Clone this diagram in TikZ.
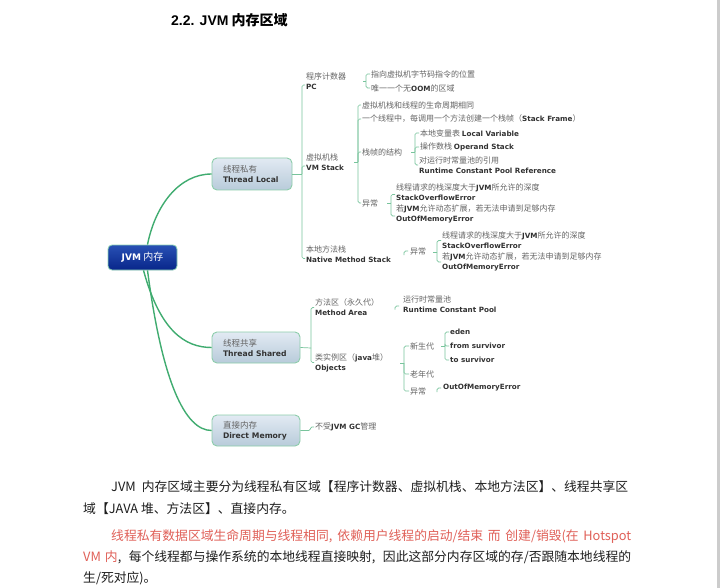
\documentclass[tikz,border=0pt]{standalone}
\usepackage{fontspec}
\setmainfont{Noto Sans CJK SC}
\newfontfamily\enfont{DejaVu Sans}[Scale=0.9]
\newfontfamily\titlefont{Liberation Sans}
\definecolor{jvmgreen}{RGB}{64,172,112}
\definecolor{jvmline}{RGB}{120,196,156}
\definecolor{jvmtext}{RGB}{100,100,100}
\definecolor{jvmdark}{RGB}{50,50,50}
\definecolor{jvmbody}{RGB}{30,30,30}
\definecolor{jvmred}{RGB}{224,96,88}
\newcommand\en[1]{{\enfont\bfseries\color{jvmdark}#1}}
\begin{document}
\begin{tikzpicture}[x=1pt, y=-1pt,
  root/.style={rounded corners=4pt, top color={rgb,255:red,40;green,80;blue,180}, bottom color={rgb,255:red,8;green,38;blue,138}, draw={rgb,255:red,140;green,210;blue,180}, line width=0.8pt, minimum width=69pt, minimum height=25pt, text=white, font=\fontsize{10}{12}\selectfont},
  topic/.style={rounded corners=5pt, top color={rgb,255:red,226;green,234;blue,243}, bottom color={rgb,255:red,184;green,203;blue,218}, draw={rgb,255:red,140;green,205;blue,170}, line width=0.9pt, inner xsep=11pt, align=left, text=jvmtext, font=\fontsize{8.5}{10}\selectfont},
  leaf/.style={anchor=west, inner sep=1pt, align=left, text=jvmtext, font=\fontsize{8}{10}\selectfont},
  body/.style={anchor=west, inner sep=0pt, text=jvmbody, font=\fontsize{12.8}{14}\selectfont},
  limb/.style={draw=jvmgreen, line width=1.4pt},
  bracket/.style={draw=jvmline, line width=0.7pt, rounded corners=1.5pt}]
\fill[white] (0,0) rectangle (720,588);
\fill[black!20] (717,0) rectangle (720,588);
\useasboundingbox (0,0) rectangle (720,588);

\node[anchor=west, inner sep=0pt, font=\fontsize{14}{14}\selectfont\bfseries] (title) at (171,20) {{\titlefont 2.2. JVM} 内存区域};

\node[root] (root) at (142.5,257.5) {{\enfont\bfseries JVM} 内存};
\node[topic, minimum width=80pt, minimum height=32pt, text width=58pt] (tl) at (252,174) {线程私有\\\en{Thread Local}};
\node[topic, minimum width=88pt, minimum height=31pt, text width=66pt] (ts) at (256,347.5) {线程共享\\\en{Thread Shared}};
\node[topic, minimum width=88pt, minimum height=31pt, text width=66pt] (dm) at (256,430.5) {直接内存\\\en{Direct Memory}};

\node[leaf] (pc) at (305,81) {程序计数器\\\en{PC}};
\node[leaf] (vms) at (305,162) {虚拟机栈\\\en{VM Stack}};
\node[leaf] (nms) at (305,254.5) {本地方法栈\\\en{Native Method Stack}};

\node[leaf] (pc1) at (370,74) {指向虚拟机字节码指令的位置};
\node[leaf] (pc2) at (370,88) {唯一一个无\en{OOM}的区域};

\node[leaf] (v1) at (361,105) {虚拟机栈和线程的生命周期相同};
\node[leaf] (v2) at (361,119) {一个线程中，每调用一个方法创建一个栈帧（\en{Stack Frame}）};
\node[leaf] (v3) at (361,152) {栈帧的结构};
\node[leaf] (v4) at (361,203) {异常};

\node[leaf] (f1) at (419,133) {本地变量表 \en{Local Variable}};
\node[leaf] (f2) at (419,147) {操作数栈 \en{Operand Stack}};
\node[leaf] (f3) at (418,165) {对运行时常量池的引用\\\en{Runtime Constant Pool Reference}};

\node[leaf] (e1) at (395,192.5) {线程请求的栈深度大于\en{JVM}所允许的深度\\\en{StackOverflowError}};
\node[leaf] (e2) at (395,214) {若\en{JVM}允许动态扩展，若无法申请到足够内存\\\en{OutOfMemoryError}};

\node[leaf] (n1) at (409,251) {异常};
\node[leaf] (ne1) at (441,240.5) {线程请求的栈深度大于\en{JVM}所允许的深度\\\en{StackOverflowError}};
\node[leaf] (ne2) at (441,262) {若\en{JVM}允许动态扩展，若无法申请到足够内存\\\en{OutOfMemoryError}};

\node[leaf] (ma) at (314,307.5) {方法区（永久代）\\\en{Method Area}};
\node[leaf] (obj) at (314,362.5) {类实例区（\en{java}堆）\\\en{Objects}};
\node[leaf] (rcp) at (402,304.5) {运行时常量池\\\en{Runtime Constant Pool}};

\node[leaf] (o1) at (409,346) {新生代};
\node[leaf] (o2) at (409,374) {老年代};
\node[leaf] (o3) at (409,391) {异常};
\node[leaf] (y1) at (449,332) {\en{eden}};
\node[leaf] (y2) at (449,346) {\en{from survivor}};
\node[leaf] (y3) at (449,360) {\en{to survivor}};
\node[leaf] (oom) at (442,388) {\en{OutOfMemoryError}};

\node[leaf] (gc) at (314,427) {不受\en{JVM GC}管理};

\draw[limb] ([xshift=5pt]root.north) .. controls +(8,-40) and +(-32,0) .. (tl.west);
\draw[limb] ([xshift=1pt]root.south) .. controls +(16.5,60) and +(-27,0) .. (ts.west);
\draw[limb] ([xshift=5pt]root.south) .. controls +(14.5,110) and +(-27,0) .. (dm.west);

\coordinate (tlb) at (302,174);
\draw[bracket] (tl.east) -- (tlb);
\foreach \n in {pc,vms,nms} \draw[bracket] (tlb) |- ([yshift=-4pt]\n.west);

\coordinate (pcb) at (366,81);
\draw[bracket] (pcb) -- ++(-3,0);
\foreach \n in {pc1,pc2} \draw[bracket] (pcb) |- (\n.west);

\coordinate (vmb) at (358,162);
\draw[bracket] (vmb) -- ++(-4,0);
\foreach \n in {v1,v2,v3,v4} \draw[bracket] (vmb) |- (\n.west);

\coordinate (frb) at (415,152);
\draw[bracket] (frb) -- ++(-4,0);
\foreach \n in {f1,f2,f3} \draw[bracket] (frb) |- (\n.west);

\coordinate (veb) at (391,203);
\draw[bracket] (veb) -- ++(-4,0);
\foreach \n in {e1,e2} \draw[bracket] (veb) |- ([yshift=-2pt]\n.west);

\draw[bracket] ([xshift=-5pt,yshift=-4pt]n1.west) |- ([xshift=-1pt]n1.west);
\coordinate (nb) at (437,252);
\draw[bracket] (nb) -- ++(-4,0);
\foreach \n in {ne1,ne2} \draw[bracket] (nb) |- (\n.west);

\coordinate (tsb) at (311,348);
\draw[bracket] (ts.east) -- (tsb);
\foreach \n in {ma,obj} \draw[bracket] (tsb) |- (\n.west);

\draw[bracket] ([xshift=-7pt,yshift=-5pt]rcp.west) |- ([xshift=-3pt,yshift=-1.5pt]rcp.west);

\coordinate (ob) at (404,363);
\draw[bracket] (ob) -- ++(-4,0);
\foreach \n in {o1,o2,o3} \draw[bracket] (ob) |- (\n.west);

\coordinate (yb) at (445,346);
\draw[bracket] (yb) -- ++(-4,0);
\foreach \n in {y1,y2,y3} \draw[bracket] (yb) |- (\n.west);

\draw[bracket] ([xshift=-5pt,yshift=-4pt]oom.west) |- ([xshift=-1pt]oom.west);
\draw[bracket] (dm.east) -- ++(10,0) |- (gc.west);

\node[body] (b1) at (111,487) {JVM\hspace{6pt}内存区域主要分为线程私有区域【程序计数器、虚拟机栈、本地方法区】、线程共享区};
\node[body] (b2) at (83,509) {域【JAVA 堆、方法区】、直接内存。};
\node[body, text=jvmred] (b3) at (111,537) {\makebox[520pt][s]{线程私有数据区域生命周期与线程相同, 依赖用户线程的启动/结束 而 创建/销毁(在 Hotspot}};
\node[body] (b4) at (83,557) {\makebox[548pt][s]{{\color{jvmred}VM\hspace{4pt}内}, 每个线程都与操作系统的本地线程直接映射, 因此这部分内存区域的存/否跟随本地线程的}};
\node[body] (b5) at (83,578) {生/死对应)。};
\end{tikzpicture}
\end{document}
